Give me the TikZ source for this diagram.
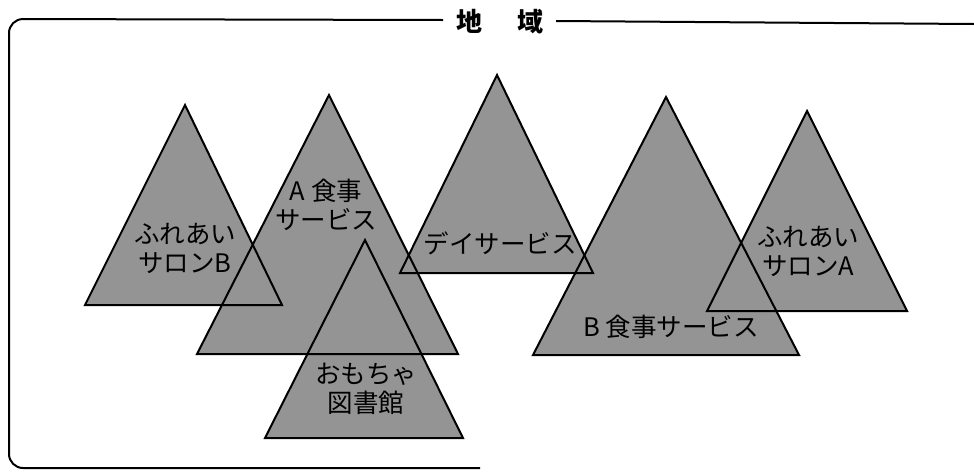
\documentclass[tikz,border=0pt]{standalone}
\usepackage{fontspec}
\newfontfamily\jp{Noto Sans CJK JP}
\begin{document}
\begin{tikzpicture}[x=1pt,y=-1pt,
  trifill/.style={fill=black!42},
  triline/.style={draw=black, line width=2pt, line join=miter},
  frameline/.style={draw=black, line width=2pt},
  lbl/.style={font=\jp\fontsize{25.5}{29}\selectfont, align=center, inner sep=0pt, text=black},
  ttl/.style={font=\jp\bfseries\fontsize{26}{28}\selectfont, inner sep=0pt}]
\fill[white] (0,0) rectangle (974,472);
\useasboundingbox (0,0) rectangle (974,472);
% triangle corners
\coordinate (a1) at (185,105); \coordinate (b1) at (85,305);  \coordinate (c1) at (282,305);
\coordinate (a2) at (329,95);  \coordinate (b2) at (197,354); \coordinate (c2) at (458,354);
\coordinate (a3) at (365,240); \coordinate (b3) at (265,438); \coordinate (c3) at (463,438);
\coordinate (a4) at (497,75);  \coordinate (b4) at (400,273); \coordinate (c4) at (593,273);
\coordinate (a5) at (666,97);  \coordinate (b5) at (533,355); \coordinate (c5) at (799,355);
\coordinate (a6) at (807,111); \coordinate (b6) at (707,311); \coordinate (c6) at (907,311);
% fills
\foreach \i in {1,...,6} { \fill[trifill] (a\i) -- (b\i) -- (c\i) -- cycle; }
% outlines
\foreach \i in {1,...,6} { \draw[triline] (a\i) -- (b\i) -- (c\i) -- cycle; }
% frame
\node[ttl] (title) at (500,22) {地\hspace{36pt}域};
\coordinate (fl) at (443,20);
\coordinate (fr0) at (556,21);
\coordinate (fr1) at (974,24);
\coordinate (fb) at (480,468);
\draw[frameline, rounded corners=14pt] (fl) -- (9,19) -- (9,468) -- (fb);
\draw[frameline] (fr0) -- (fr1);
% labels
\node[lbl] (salonB) at (185,248) {ふれあい\\サロンB};
\node[lbl] (foodA) at (326,205) {A 食事\\サービス};
\node[lbl] (toy) at (366,389) {おもちゃ\\図書館};
\node[lbl] (day) at (500,243) {デイサービス};
\node[lbl] (foodB) at (671,327) {B 食事サービス};
\node[lbl] (salonA) at (808,251) {ふれあい\\サロンA};
\end{tikzpicture}
\end{document}
